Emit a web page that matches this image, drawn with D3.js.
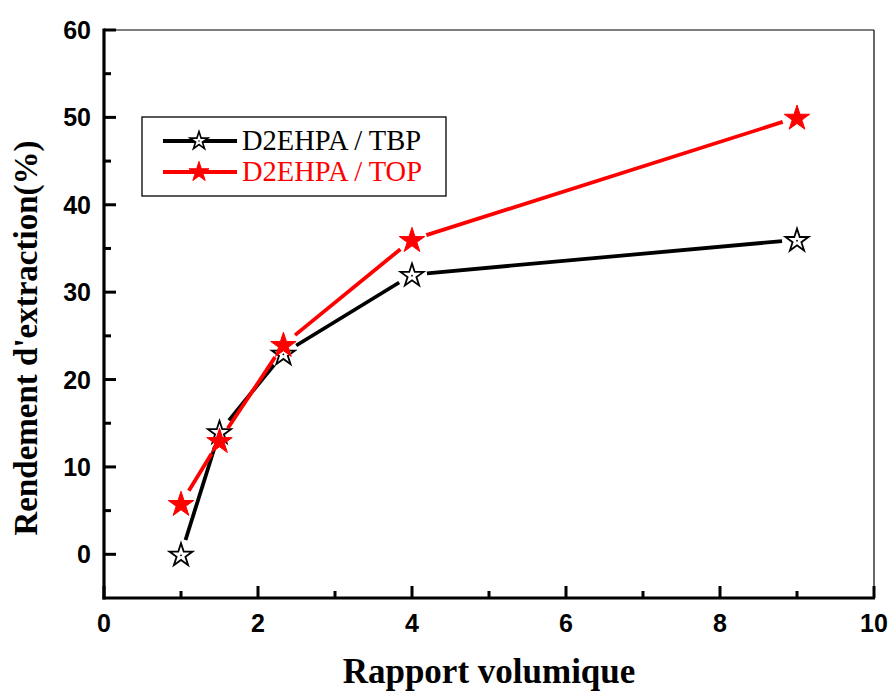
<!DOCTYPE html>
<html>
<head>
<meta charset="utf-8">
<script src="https://cdn.jsdelivr.net/npm/d3@7"></script>
<style>
  html, body { margin: 0; padding: 0; background: #fff; }
  svg { display: block; }
</style>
</head>
<body>
<svg id="chart" width="891" height="692"></svg>
<script>
// Volume ratio (x) and extraction yield in % (y) for the two solvent mixtures
const ratios = [1, 1.5, 2.33, 4, 9];
const yieldTBP = [0, 14, 23, 32, 36];
const yieldTOP = [5.8, 13, 24, 36, 50];
const seriesNames = ["D2EHPA / TBP", "D2EHPA / TOP"];
const xTicks = [0, 2, 4, 6, 8, 10];
const yTicks = [0, 10, 20, 30, 40, 50, 60];

const svg = d3.select("#chart");
const plotLeft = 104, plotRight = 874, plotTop = 30, plotBottom = 598;

const x = d3.scaleLinear().domain([0, 10]).range([plotLeft, plotRight]);
const y = d3.scaleLinear().domain([-5, 60]).range([plotBottom, plotTop]);

const tickFont = "'Liberation Sans', Arial, sans-serif";
const serif = "'Liberation Serif', 'Times New Roman', serif";

// Frame: thin top/right borders, heavy left/bottom axes
svg.append("line").attr("x1", plotLeft).attr("x2", plotRight).attr("y1", plotTop).attr("y2", plotTop)
  .attr("stroke", "#000").attr("stroke-width", 1.2);
svg.append("line").attr("x1", plotRight).attr("x2", plotRight).attr("y1", plotTop).attr("y2", plotBottom)
  .attr("stroke", "#000").attr("stroke-width", 1.2);

// Left axis with inward ticks
const yMinor = d3.range(-5, 61, 5).filter(v => v % 10 !== 0 && v > -5);
const gy = svg.append("g");
gy.selectAll("line.major").data(yTicks).join("line").attr("class", "major")
  .attr("x1", plotLeft).attr("x2", plotLeft + 12)
  .attr("y1", d => y(d)).attr("y2", d => y(d))
  .attr("stroke", "#000").attr("stroke-width", 3);
gy.selectAll("line.minor").data(yMinor).join("line").attr("class", "minor")
  .attr("x1", plotLeft).attr("x2", plotLeft + 7)
  .attr("y1", d => y(d)).attr("y2", d => y(d))
  .attr("stroke", "#000").attr("stroke-width", 3);
gy.selectAll("text").data(yTicks).join("text")
  .attr("x", plotLeft - 13).attr("y", d => y(d) + 9)
  .attr("text-anchor", "end")
  .attr("font-family", tickFont).attr("font-weight", "bold").attr("font-size", 25)
  .text(d => d);
svg.append("line").attr("x1", plotLeft).attr("x2", plotLeft).attr("y1", plotTop - 1.5).attr("y2", plotBottom + 1.5)
  .attr("stroke", "#000").attr("stroke-width", 3.2);

// Bottom axis with inward ticks
const xMinor = [1, 3, 5, 7, 9];
const gx = svg.append("g");
gx.selectAll("line.major").data(xTicks).join("line").attr("class", "major")
  .attr("x1", d => x(d)).attr("x2", d => x(d))
  .attr("y1", plotBottom).attr("y2", plotBottom - 12)
  .attr("stroke", "#000").attr("stroke-width", 3);
gx.selectAll("line.minor").data(xMinor).join("line").attr("class", "minor")
  .attr("x1", d => x(d)).attr("x2", d => x(d))
  .attr("y1", plotBottom).attr("y2", plotBottom - 7)
  .attr("stroke", "#000").attr("stroke-width", 3);
gx.selectAll("text").data(xTicks).join("text")
  .attr("x", d => x(d)).attr("y", 632)
  .attr("text-anchor", "middle")
  .attr("font-family", tickFont).attr("font-weight", "bold").attr("font-size", 25)
  .text(d => d);
svg.append("line").attr("x1", plotLeft - 1.5).attr("x2", plotRight + 1).attr("y1", plotBottom).attr("y2", plotBottom)
  .attr("stroke", "#000").attr("stroke-width", 3.2);

// Axis titles
svg.append("text")
  .attr("x", (plotLeft + plotRight) / 2).attr("y", 683)
  .attr("text-anchor", "middle")
  .attr("font-family", serif).attr("font-weight", "bold").attr("font-size", 35)
  .text("Rapport volumique");
svg.append("text")
  .attr("transform", "translate(37, 338) rotate(-90)")
  .attr("text-anchor", "middle")
  .attr("font-family", serif).attr("font-weight", "bold").attr("font-size", 33)
  .text("Rendement d'extraction(%)");

// Star marker generator
const star = size => d3.symbol(d3.symbolStar, size)();

// Connecting segments, cut short around each marker
function drawSeries(values, color, open) {
  const pts = ratios.map((r, i) => [x(r), y(values[i])]);
  const gap = 15;
  const g = svg.append("g");
  for (let i = 0; i < pts.length - 1; i++) {
    const [x0, y0] = pts[i], [x1, y1] = pts[i + 1];
    const len = Math.hypot(x1 - x0, y1 - y0);
    if (len <= 2 * gap) continue;
    const ux = (x1 - x0) / len, uy = (y1 - y0) / len;
    g.append("line")
      .attr("x1", x0 + ux * gap).attr("y1", y0 + uy * gap)
      .attr("x2", x1 - ux * gap).attr("y2", y1 - uy * gap)
      .attr("stroke", color).attr("stroke-width", 3.8);
  }
  g.selectAll("path").data(pts).join("path")
    .attr("transform", d => `translate(${d[0]},${d[1] + 1})`)
    .attr("d", star(open ? 165 : 200))
    .attr("fill", open ? "#fff" : color)
    .attr("stroke", color).attr("stroke-width", open ? 1.8 : 1);
  if (open) {
    g.selectAll("circle").data(pts).join("circle")
      .attr("cx", d => d[0]).attr("cy", d => d[1] + 1).attr("r", 0.9)
      .attr("fill", color);
  }
}
drawSeries(yieldTBP, "#000", true);
drawSeries(yieldTOP, "#ff0000", false);

// Legend
const legend = svg.append("g");
legend.append("rect").attr("x", 142).attr("y", 117).attr("width", 304).attr("height", 79)
  .attr("fill", "#fff").attr("stroke", "#000").attr("stroke-width", 1.3);
const legendRows = [
  { name: seriesNames[0], color: "#000", open: true, yc: 141 },
  { name: seriesNames[1], color: "#ff0000", open: false, yc: 172 }
];
legendRows.forEach(r => {
  legend.append("line").attr("x1", 163).attr("x2", 237).attr("y1", r.yc).attr("y2", r.yc)
    .attr("stroke", r.color).attr("stroke-width", 3.8);
  legend.append("path").attr("transform", `translate(199,${r.yc})`)
    .attr("d", star(r.open ? 100 : 125))
    .attr("fill", r.open ? "#fff" : r.color)
    .attr("stroke", r.color).attr("stroke-width", r.open ? 1.6 : 1);
  if (r.open) legend.append("circle").attr("cx", 199).attr("cy", r.yc).attr("r", 0.8).attr("fill", r.color);
  legend.append("text").attr("x", 242).attr("y", r.yc + 9)
    .attr("font-family", serif).attr("font-size", 28.5)
    .attr("fill", r.color).text(r.name);
});
</script>
</body>
</html>
